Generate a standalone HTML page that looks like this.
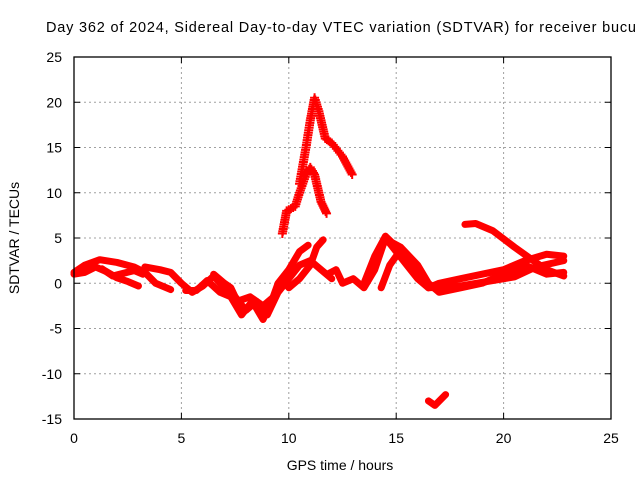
<!DOCTYPE html>
<html><head><meta charset="utf-8"><style>
body{margin:0;background:#fff;}
svg{display:block;font-family:"Liberation Sans",sans-serif;}
</style></head><body>
<svg id="chart" width="640" height="480" viewBox="0 0 640 480">
<text x="46" y="32" font-size="14.5" textLength="590" lengthAdjust="spacing" fill="#000">Day 362 of 2024, Sidereal Day-to-day VTEC variation (SDTVAR) for receiver bucu</text>
<g id="grid"></g>
<g id="ticks"></g>
<g id="marks"></g>
<rect x="74" y="57" width="537" height="362" fill="none" stroke="#000" stroke-width="1.3"/>
<text x="340" y="470" font-size="14" text-anchor="middle">GPS time / hours</text>
<text transform="translate(19,238) rotate(-90)" font-size="14" text-anchor="middle">SDTVAR / TECUs</text>
</svg>
<script>
const xTicks=[0,5,10,15,20,25];
const yTicks=[-15,-10,-5,0,5,10,15,20,25];
const lineTracks=[
[[0,1.2],[0.5,2],[1.2,2.6],[2,2.3],[2.8,1.8],[3.3,1.2],[3.8,0],[4.5,-0.7]],
[[0,1.0],[0.5,1.2],[1,1.8],[1.5,1.3],[2,0.6],[2.5,0.2],[3,-0.3]],
[[1.3,1.6],[1.8,0.8],[2.3,1.1],[2.8,1.4],[3.2,1.0]],
[[3.3,1.8],[4,1.5],[4.5,1.2],[5,0],[5.5,-1],[6,-0.3],[6.5,0.8],[7,-0.5],[7.5,-1.5],[8,-3],[8.5,-2],[9,-3.5],[9.5,-1],[10,0.5],[10.5,2],[11,2.5],[11.5,1.5],[12,0.5]],
[[5.2,-0.8],[5.7,-0.8],[6.2,0.3],[6.8,-1],[7.3,-1.5],[7.8,-3.5],[8.3,-2],[8.8,-4],[9.2,-2],[9.5,0],[10,1.5],[10.5,3.5],[10.9,4.2]],
[[6.5,1],[7,0],[7.3,-0.5],[7.6,-2],[8.2,-1.5],[8.8,-2.5],[9.3,-1.5],[9.7,0.5],[10,-0.5],[10.5,0.5],[11,2],[11.3,4],[11.6,4.8]],
[[11.8,1],[12.2,1.5],[12.5,0],[13,0.5],[13.5,-0.5],[14,1.5],[14.5,5],[15,3.5],[15.5,2],[16,0.5],[16.5,-0.5],[17,0],[18,0.5],[19,1],[20,1.5],[21,2.5],[22,3.2],[22.8,3]],
[[13.5,0],[14,3],[14.5,5.2],[14.8,4.5],[15.2,4],[16,2],[16.5,0],[17,-1],[18,-0.5],[19,0],[20,1],[21,2],[22,1],[22.8,1.2]],
[[14.3,-0.5],[14.7,2],[15,3],[15.5,3],[16,1],[16.5,-0.5],[18,-0.3],[19.5,0.3],[20.5,0.7],[21.5,1.8],[22.8,2.5]],
[[18.2,6.5],[18.7,6.6],[19.5,5.8],[20.5,4],[21.5,2.3],[22,1.5],[22.8,0.8]],
[[16.5,-13],[16.8,-13.5],[17.3,-12.3]]
];
const crossTracks=[
[[9.7,5.5],[9.9,8],[10.3,8.5],[10.5,10],[10.8,12],[11,12.8],[11.2,12],[11.5,9],[11.8,7.5]],
[[10.5,11],[10.8,15],[11,18],[11.2,20.5],[11.4,19],[11.7,16],[12,15.5],[12.5,14],[13,11.8]]
];
const X0=74,X1=611,Y0=419,Y1=57,XMIN=0,XMAX=25,YMIN=-15,YMAX=25;
const sx=v=>X0+(v-XMIN)/(XMAX-XMIN)*(X1-X0);
const sy=v=>Y0-(v-YMIN)/(YMAX-YMIN)*(Y0-Y1);
const NS="http://www.w3.org/2000/svg";
function mk(t,a){const e=document.createElementNS(NS,t);for(const k in a)e.setAttribute(k,a[k]);return e;}
const grid=document.getElementById('grid'),ticks=document.getElementById('ticks'),marks=document.getElementById('marks');
xTicks.forEach(v=>{
 if(v>XMIN&&v<XMAX){const g=mk('line',{x1:sx(v),x2:sx(v),y1:Y1,y2:Y0,stroke:'#a0a0a0','stroke-dasharray':'2,3'});
 
 grid.appendChild(g);}
 const t=mk('text',{x:sx(v),y:Y0+24,'font-size':14,'text-anchor':'middle'});t.textContent=v;
 
 ticks.appendChild(t);
 ticks.appendChild(mk('line',{x1:sx(v),x2:sx(v),y1:Y0,y2:Y0-6,stroke:'#000'}));
 ticks.appendChild(mk('line',{x1:sx(v),x2:sx(v),y1:Y1,y2:Y1+6,stroke:'#000'}));
});
yTicks.forEach(v=>{
 if(v>YMIN&&v<YMAX){const g=mk('line',{x1:X0,x2:X1,y1:sy(v),y2:sy(v),stroke:'#a0a0a0','stroke-dasharray':'2,3'});
 
 grid.appendChild(g);}
 const t=mk('text',{x:X0-12,y:sy(v)+5,'font-size':14,'text-anchor':'end'});t.textContent=v;
 
 ticks.appendChild(t);
 ticks.appendChild(mk('line',{x1:X0,x2:X0+6,y1:sy(v),y2:sy(v),stroke:'#000'}));
 ticks.appendChild(mk('line',{x1:X1,x2:X1-6,y1:sy(v),y2:sy(v),stroke:'#000'}));
});
lineTracks.forEach(tr=>{
 const p=mk('polyline',{points:tr.map(d=>sx(d[0])+','+sy(d[1])).join(' '),fill:'none',stroke:'#f00','stroke-width':7,'stroke-linejoin':'round','stroke-linecap':'round'});
 
 
 marks.appendChild(p);
});
crossTracks.forEach(tr=>{
 let d='';
 for(let i=0;i<tr.length-1;i++){
  const a=tr[i],b=tr[i+1];
  const n=Math.max(2,Math.ceil(Math.hypot(sx(b[0])-sx(a[0]),sy(b[1])-sy(a[1]))/2.5));
  for(let k=0;k<n;k++){const f=k/n;const x=sx(a[0]+(b[0]-a[0])*f),y=sy(a[1]+(b[1]-a[1])*f);
   d+=`M${x-4.5},${y}h9M${x},${y-4.5}v9`;}
 }
 const p=mk('path',{d:d,stroke:'#f00','stroke-width':2,fill:'none'});
 
 
 marks.appendChild(p);
});
</script>
</body></html>
